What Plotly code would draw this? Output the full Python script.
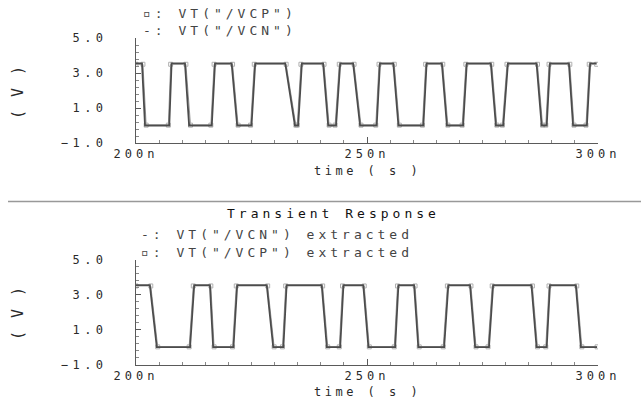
import plotly.graph_objects as go

# ---------------- data ----------------
# top panel (time in ns, voltage in V)
top_vcp_t = [200.0, 201.3, 201.95, 207.2, 207.7, 210.6, 211.5, 216.4, 217.1, 220.7, 221.9, 225.0,
             225.8, 232.3, 234.4, 235.1, 235.9, 240.5, 241.6, 243.3, 244.2, 247.0, 248.5, 252.1,
             252.8, 255.7, 256.8, 262.2, 262.9, 266.2, 267.3, 270.8, 271.6, 276.8, 277.9, 279.5,
             280.5, 286.7, 287.8, 288.9, 289.6, 293.7, 294.6, 297.6, 298.3, 299.7]
top_vcp_v = [3.55, 3.55, 0.0, 0.0, 3.55, 3.55, 0.0, 0.0, 3.55, 3.55, 0.0, 0.0,
             3.55, 3.55, 0.0, 0.0, 3.55, 3.55, 0.0, 0.0, 3.55, 3.55, 0.0, 0.0,
             3.55, 3.55, 0.0, 0.0, 3.55, 3.55, 0.0, 0.0, 3.55, 3.55, 0.0, 0.0,
             3.55, 3.55, 0.0, 0.0, 3.55, 3.55, 0.0, 0.0, 3.55, 3.55]
top_vcn_t = [200.0, 201.5, 202.2, 207.0, 207.5, 210.8, 211.8, 216.2, 216.9, 220.9, 222.1, 224.8,
             225.6, 232.5, 234.6, 234.9, 235.7, 240.7, 241.8, 243.1, 244.0, 247.2, 248.7, 251.9,
             252.6, 255.9, 257.0, 262.0, 262.7, 266.4, 267.5, 270.6, 271.4, 277.0, 278.1, 279.3,
             280.3, 286.9, 288.0, 288.7, 289.4, 293.9, 294.8, 297.4, 298.1, 299.7]
top_vcn_v = [3.5, 3.5, 0.02, 0.02, 3.5, 3.5, 0.02, 0.02, 3.5, 3.5, 0.02, 0.02,
             3.5, 3.5, 0.02, 0.02, 3.5, 3.5, 0.02, 0.02, 3.5, 3.5, 0.02, 0.02,
             3.5, 3.5, 0.02, 0.02, 3.5, 3.5, 0.02, 0.02, 3.5, 3.5, 0.02, 0.02,
             3.5, 3.5, 0.02, 0.02, 3.5, 3.5, 0.02, 0.02, 3.5, 3.5]

# bottom panel (extracted)
bot_vcn_t = [200.0, 203.0, 204.5, 211.7, 212.6, 216.0, 216.7, 221.1, 221.9, 228.3, 229.7, 231.9,
             232.6, 240.2, 241.3, 244.2, 244.9, 249.2, 250.3, 256.1, 256.8, 260.2, 261.1, 266.7,
             267.6, 272.3, 273.4, 276.4, 277.3, 285.6, 286.7, 288.9, 289.6, 295.2, 296.3, 299.8]
bot_vcn_v = [3.55, 3.55, 0.0, 0.0, 3.55, 3.55, 0.0, 0.0, 3.55, 3.55, 0.0, 0.0,
             3.55, 3.55, 0.0, 0.0, 3.55, 3.55, 0.0, 0.0, 3.55, 3.55, 0.0, 0.0,
             3.55, 3.55, 0.0, 0.0, 3.55, 3.55, 0.0, 0.0, 3.55, 3.55, 0.0, 0.0]
bot_vcp_t = [200.0, 203.2, 204.7, 211.5, 212.4, 216.2, 216.9, 220.9, 221.7, 228.5, 229.9, 231.7,
             232.4, 240.4, 241.5, 244.0, 244.7, 249.4, 250.5, 255.9, 256.6, 260.4, 261.3, 266.5,
             267.4, 272.5, 273.6, 276.2, 277.1, 285.8, 286.9, 288.7, 289.4, 295.4, 296.5, 299.8]
bot_vcp_v = [3.5, 3.5, 0.02, 0.02, 3.5, 3.5, 0.02, 0.02, 3.5, 3.5, 0.02, 0.02,
             3.5, 3.5, 0.02, 0.02, 3.5, 3.5, 0.02, 0.02, 3.5, 3.5, 0.02, 0.02,
             3.5, 3.5, 0.02, 0.02, 3.5, 3.5, 0.02, 0.02, 3.5, 3.5, 0.02, 0.02]

x_tickvals = [200, 250, 300]
x_ticktext = ["200n", "250n", "300n"]
y_tickvals = [-1, 1, 3, 5]
y_ticktext = ["\u22121.0", "1.0", "3.0", "5.0"]

# ---------------- figure ----------------
W, H = 641, 403
FONT = "DejaVu Sans Mono"
TXT = "#2a2a2a"
AX = "#5a5a5a"


def sp(s, ls=4):
    return '<span style="letter-spacing:%spx">%s</span>' % (ls, s)


def px(x):
    return x / W


def py(y):
    return 1 - y / H


fig = go.Figure()

# top panel traces
fig.add_trace(go.Scatter(x=top_vcn_t, y=top_vcn_v, name='VT("/VCN")', mode="lines+markers",
                         line=dict(color="#9a9a9a", width=1),
                         marker=dict(symbol="square-open", size=4, color="#b0b0b0"),
                         xaxis="x", yaxis="y", showlegend=False))
fig.add_trace(go.Scatter(x=top_vcp_t, y=top_vcp_v, name='VT("/VCP")', mode="lines",
                         line=dict(color="#4c4c4c", width=1.8),
                         xaxis="x", yaxis="y", showlegend=False))
# bottom panel traces
fig.add_trace(go.Scatter(x=bot_vcp_t, y=bot_vcp_v, name='VT("/VCP") extracted', mode="lines+markers",
                         line=dict(color="#9a9a9a", width=1),
                         marker=dict(symbol="square-open", size=4, color="#b0b0b0"),
                         xaxis="x2", yaxis="y2", showlegend=False))
fig.add_trace(go.Scatter(x=bot_vcn_t, y=bot_vcn_v, name='VT("/VCN") extracted', mode="lines",
                         line=dict(color="#4c4c4c", width=1.8),
                         xaxis="x2", yaxis="y2", showlegend=False))

xdom = [px(136), px(598)]
xcommon = dict(range=[200, 300], domain=xdom, showline=True, linecolor=AX, linewidth=1,
               ticks="inside", ticklen=6, tickcolor=AX, tickwidth=1,
               tickmode="array", tickvals=x_tickvals, ticktext=[sp(t, 4) for t in x_ticktext],
               tickfont=dict(family=FONT, size=12, color=TXT), ticklabelstandoff=0,
               minor=dict(tickmode="linear", tick0=200, dtick=5, ticks="inside", ticklen=3,
                          tickcolor="#888888"),
               showgrid=False, zeroline=False, mirror=False, fixedrange=True, automargin=False)
ycommon = dict(range=[-1, 5], showline=True, linecolor=AX, linewidth=1,
               ticks="inside", ticklen=5, tickcolor=AX,
               tickmode="array", tickvals=y_tickvals, ticktext=[sp(t, 4.5) for t in y_ticktext],
               tickfont=dict(family=FONT, size=12, color=TXT), ticklabelstandoff=25,
               minor=dict(tickmode="linear", tick0=-1, dtick=0.4, ticks="inside", ticklen=3,
                          tickcolor="#888888"),
               showgrid=False, zeroline=False, fixedrange=True, automargin=False)

fig.update_layout(
    width=W, height=H,
    margin=dict(l=0, r=0, t=0, b=0, autoexpand=False),
    paper_bgcolor="white", plot_bgcolor="white",
    xaxis=dict(**xcommon, anchor="y"),
    yaxis=dict(**ycommon, domain=[py(143), py(38)], anchor="x"),
    xaxis2=dict(**xcommon, anchor="y2"),
    yaxis2=dict(**ycommon, domain=[py(364.7), py(259.7)], anchor="x2"),
    showlegend=False,
)

ann = []


def add(text, x, y, xanchor="center", angle=0, color=TXT, size=13):
    ann.append(dict(text=text, x=px(x), y=py(y), xref="paper", yref="paper",
                    xanchor=xanchor, yanchor="middle", showarrow=False, textangle=angle,
                    borderpad=0, font=dict(family=FONT, size=size, color=color)))


# top panel legend & labels
add(sp('\u25ab: VT("/VCP")'), 142, 14, xanchor="left", color="#444444")
add(sp('-: VT("/VCN")'), 142, 30, xanchor="left", color="#444444")
add(sp("time ( s )", 3.5), 367, 171, size=12)
add(sp("( V )", 2), 18, 92, angle=-90, size=15)

# bottom panel
add(sp("Transient Response", 4), 333, 213, color="#111111")
add(sp('-: VT("/VCN") extracted'), 140, 235, xanchor="left", color="#444444")
add(sp('\u25ab: VT("/VCP") extracted'), 140, 252, xanchor="left", color="#444444")
add(sp("time ( s )", 3.5), 367, 392, size=12)
add(sp("( V )", 2), 18, 313, angle=-90, size=15)

fig.update_layout(annotations=ann)

# separator line between the two panels
fig.add_shape(type="line", xref="paper", yref="paper", x0=px(8), x1=1, y0=py(201.5), y1=py(201.5),
              line=dict(color="#999999", width=1.5))

fig.write_html("out.html", config={"displayModeBar": False},
               post_script="document.body.style.margin='0';document.body.style.overflow='hidden';")
